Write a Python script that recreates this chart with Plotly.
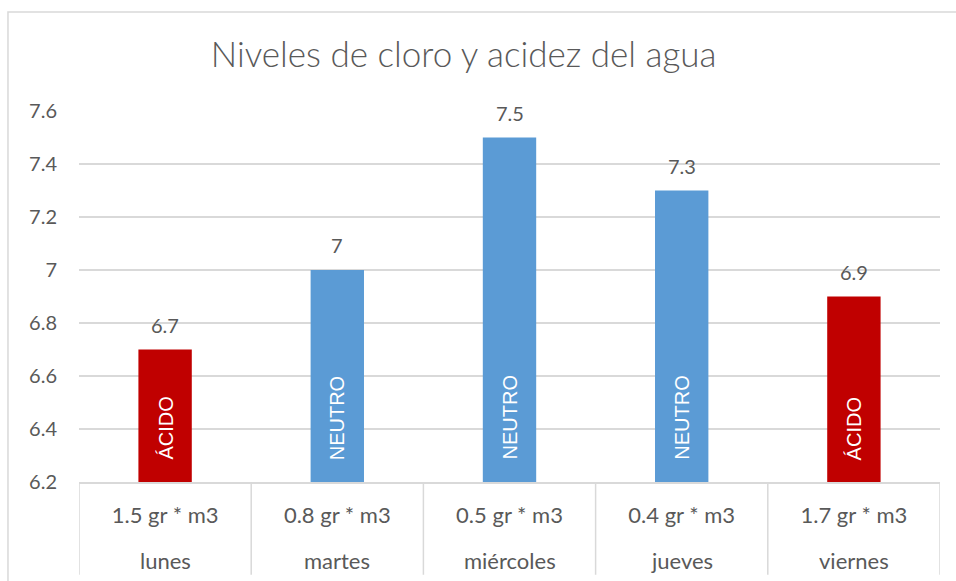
import plotly.graph_objects as go

days = ["lunes", "martes", "miércoles", "jueves", "viernes"]
doses = ["1.5 gr * m3", "0.8 gr * m3", "0.5 gr * m3", "0.4 gr * m3", "1.7 gr * m3"]
ph = [6.7, 7.0, 7.5, 7.3, 6.9]
status = ["ÁCIDO", "NEUTRO", "NEUTRO", "NEUTRO", "ÁCIDO"]
y_ticks = [6.2, 6.4, 6.6, 6.8, 7.0, 7.2, 7.4, 7.6]

RED = "#C00000"
BLUE = "#5B9BD5"
GRID = "#D9D9D9"
TXT = "#595959"
FONT = "Lato"

colors = [RED if s == "ÁCIDO" else BLUE for s in status]

fig = go.Figure()
fig.add_trace(go.Bar(
    x=days, y=ph, marker=dict(color=colors, line=dict(width=0)),
    width=0.31, hoverinfo="skip",
))

for d, v, s in zip(days, ph, status):
    # value label above bar
    fig.add_annotation(x=d, y=v, text=f"{v:g}", showarrow=False, xanchor="center",
                       yanchor="middle", yshift=25,
                       font=dict(family=FONT, size=20, color=TXT))
    # status label inside bar
    fig.add_annotation(x=d, y=y_ticks[0], text=s, showarrow=False, textangle=-90,
                       xanchor="center", yanchor="bottom", yshift=20,
                       font=dict(family="Liberation Sans", size=20, color="white"))
    # outer category label (day)
    fig.add_annotation(x=d, y=0, yref="paper", text=d, showarrow=False,
                       xanchor="center", yanchor="middle", yshift=-78,
                       font=dict(family=FONT, size=22, color=TXT))

# category dividers
for i in range(len(days) + 1):
    fig.add_shape(type="line", xref="x", yref="paper", x0=i - 0.5, x1=i - 0.5,
                  y0=0, y1=-0.25, line=dict(color=GRID, width=1.5))

# chart frame
fig.add_shape(type="rect", xref="paper", yref="paper", x0=-0.0825, y0=-1, x1=2, y1=1.267,
              line=dict(color=GRID, width=1.5), fillcolor="rgba(0,0,0,0)", layer="below")

fig.update_layout(
    width=956, height=581,
    margin=dict(l=79, r=16, t=111, b=99),
    paper_bgcolor="white", plot_bgcolor="white",
    showlegend=False,
    title=dict(text="Niveles de cloro y acidez del agua", x=0.485, xanchor="center",
               y=0.905, yanchor="middle",
               font=dict(family=FONT, size=35, color=TXT, weight=300)),
    xaxis=dict(type="category", range=[-0.5, len(days) - 0.5], showgrid=False,
               showline=True, linecolor=GRID, linewidth=1.5,
               ticks="", tickvals=days, ticktext=doses, ticklabelstandoff=13,
               tickfont=dict(family=FONT, size=22, color=TXT)),
    yaxis=dict(range=[6.2, 7.6], tickvals=y_ticks, showgrid=True, gridcolor=GRID, gridwidth=1.5,
               zeroline=False, showline=False, ticks="", ticklabelstandoff=21,
               tickfont=dict(family=FONT, size=20, color=TXT)),
)

fig.write_html("out.html")
